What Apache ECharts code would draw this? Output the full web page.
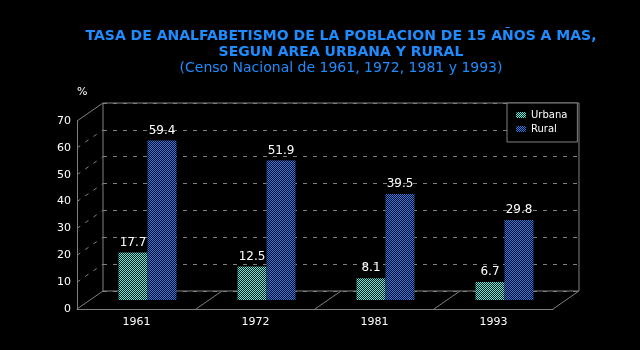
<!DOCTYPE html>
<html>
<head>
<meta charset="utf-8">
<script src="https://cdn.jsdelivr.net/npm/echarts@6/dist/echarts.min.js"></script>
<style>
  html, body { margin: 0; padding: 0; background: #000; }
  #chart { width: 640px; height: 350px; }
</style>
</head>
<body>
<div id="chart"></div>
<script>
// datos del censo
const years = ['1961', '1972', '1981', '1993'];
const urbana = [17.7, 12.5, 8.1, 6.7];
const rural = [59.4, 51.9, 39.5, 29.8];
const seriesNames = ['Urbana', 'Rural'];

// geometria del marco pseudo-3D
const FRONT = { left: 77, top: 121, width: 476, height: 188 };
const DX = 26, DY = 18;
const BACK = { left: FRONT.left + DX, top: FRONT.top - DY, width: FRONT.width, height: FRONT.height };
const MID = { left: FRONT.left + 11, top: FRONT.top - DY / 2, width: FRONT.width, height: FRONT.height };
const GREY = '#808080';
const FONT = 'DejaVu Sans';

function checker(color) {
  const c = document.createElement('canvas');
  c.width = 2; c.height = 2;
  const g = c.getContext('2d');
  g.fillStyle = '#000';
  g.fillRect(0, 0, 2, 2);
  g.fillStyle = color;
  g.fillRect(0, 0, 1, 1);
  g.fillRect(1, 1, 1, 1);
  return { image: c, repeat: 'repeat' };
}

const chart = echarts.init(document.getElementById('chart'), null, { renderer: 'canvas' });

const valueAxis = (gridIndex, extra) => Object.assign({
  type: 'value', gridIndex, min: 0, max: 70, interval: 10,
  axisLine: { show: false }, axisTick: { show: false },
  axisLabel: { show: false }, splitLine: { show: false }
}, extra);

const labelStyle = { show: true, position: 'top', distance: 4, color: '#fff', fontFamily: FONT, fontSize: 12 };

chart.setOption({
  backgroundColor: '#000',
  animation: false,
  title: {
    text: 'TASA DE ANALFABETISMO DE LA POBLACION DE 15 AÑOS A MAS,\nSEGUN AREA URBANA Y RURAL',
    subtext: '(Censo Nacional de 1961, 1972, 1981 y 1993)',
    left: 336, top: 23, textAlign: 'center', itemGap: 0,
    textStyle: { color: '#1e8cff', fontFamily: FONT, fontSize: 14, fontWeight: 'bold', lineHeight: 16 },
    subtextStyle: { color: '#1e8cff', fontFamily: FONT, fontSize: 14, lineHeight: 17 }
  },
  legend: {
    data: seriesNames, orient: 'vertical',
    left: BACK.left + BACK.width - 72, top: BACK.top,
    padding: [7, 10, 8, 9], itemGap: 4, itemWidth: 10, itemHeight: 6,
    borderColor: GREY, borderWidth: 1, backgroundColor: '#000',
    textStyle: { color: '#fff', fontFamily: FONT, fontSize: 10 }
  },
  grid: [
    Object.assign({ show: true, borderColor: GREY, borderWidth: 1, backgroundColor: 'transparent' }, BACK),
    Object.assign({}, FRONT),
    Object.assign({}, MID)
  ],
  xAxis: [
    { type: 'category', gridIndex: 0, data: years, show: false },
    {
      type: 'category', gridIndex: 1, data: years,
      axisLine: { lineStyle: { color: GREY } }, axisTick: { show: false },
      axisLabel: { color: '#fff', fontFamily: FONT, fontSize: 11, margin: 8 }
    },
    { type: 'category', gridIndex: 2, data: years, show: false }
  ],
  yAxis: [
    valueAxis(0, { splitLine: { show: true, lineStyle: { color: GREY, type: [4, 6] } } }),
    valueAxis(1, {
      axisLine: { show: true, lineStyle: { color: GREY } },
      axisLabel: { show: true, color: '#fff', fontFamily: FONT, fontSize: 11, margin: 6 },
      name: '%', nameLocation: 'end', nameGap: 23,
      nameTextStyle: { color: '#fff', fontFamily: FONT, fontSize: 11, align: 'left' }
    }),
    valueAxis(2)
  ],
  series: [
    {
      name: 'Urbana', type: 'bar', xAxisIndex: 2, yAxisIndex: 2,
      data: urbana, barWidth: 29, barGap: '0%',
      itemStyle: { color: checker('#33ffee') }, label: labelStyle
    },
    {
      name: 'Rural', type: 'bar', xAxisIndex: 2, yAxisIndex: 2,
      data: rural, barWidth: 29,
      itemStyle: { color: checker('#1f80ff') }, label: labelStyle
    }
  ]
});

// paredes laterales y piso: diagonales desde el eje frontal al fondo
const lines = [];
for (let v = 0; v <= 70; v += 10) {
  const yf = chart.convertToPixel({ yAxisIndex: 1 }, v);
  const yb = chart.convertToPixel({ yAxisIndex: 0 }, v);
  const edge = v === 0 || v === 70;
  lines.push({
    type: 'line', silent: true,
    shape: { x1: FRONT.left, y1: yf, x2: BACK.left, y2: yb },
    style: { stroke: GREY, lineWidth: 1, lineDash: edge ? null : [4, 6] }
  });
}
for (let k = 1; k <= years.length; k++) {
  const x = FRONT.left + FRONT.width * k / years.length;
  const y = FRONT.top + FRONT.height;
  lines.push({
    type: 'line', silent: true,
    shape: { x1: x, y1: y, x2: x + DX, y2: y - DY },
    style: { stroke: GREY, lineWidth: 1 }
  });
}
chart.setOption({ graphic: lines });
</script>
</body>
</html>
